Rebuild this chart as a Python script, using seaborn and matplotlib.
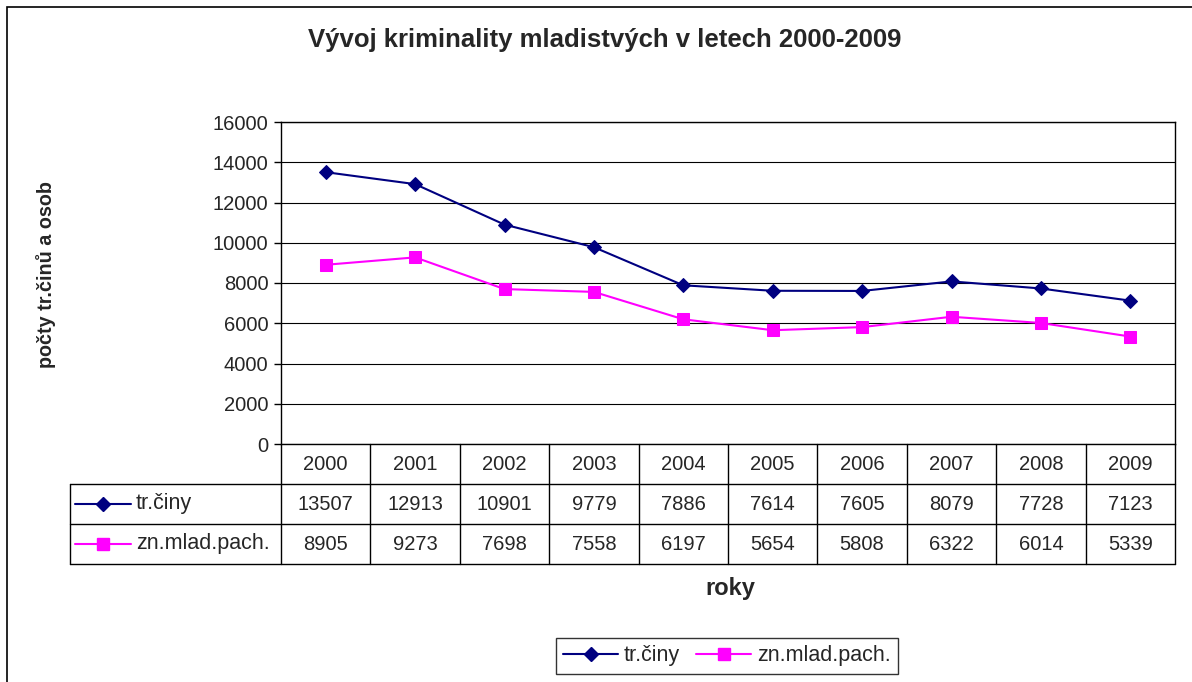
import numpy as np
import pandas as pd
import seaborn as sns
import matplotlib.pyplot as plt
from matplotlib.lines import Line2D
from matplotlib.patches import Rectangle

roky = ['2000', '2001', '2002', '2003', '2004', '2005', '2006', '2007', '2008', '2009']
tr_ciny = [13507, 12913, 10901, 9779, 7886, 7614, 7605, 8079, 7728, 7123]
pachatele = [8905, 9273, 7698, 7558, 6197, 5654, 5808, 6322, 6014, 5339]
nazvy = ['tr.činy', 'zn.mlad.pach.']
barvy = ['#000080', '#FF00FF']
znacky = ['D', 's']
velikosti = [7, 8.5]

sns.set_style('white')
plt.rcParams['font.family'] = ['Liberation Sans', 'DejaVu Sans']

W, H = 1192, 682
fig = plt.figure(figsize=(W / 100, H / 100), dpi=100)

# outer chart frame
fig.patches.append(Rectangle((7 / W, -0.1), 1.2, 1 - 7 / H + 0.1, transform=fig.transFigure,
                             fill=False, edgecolor='black', linewidth=1.2))

x0, x1, y0, y1 = 281, 1175, 444, 122
ax = fig.add_axes([x0 / W, 1 - y0 / H, (x1 - x0) / W, (y0 - y1) / H])

xpos = np.arange(len(roky)) + 0.5
df = pd.DataFrame({'x': np.concatenate([xpos, xpos]),
                   'y': tr_ciny + pachatele,
                   'serie': [nazvy[0]] * len(roky) + [nazvy[1]] * len(roky)})

for nazev, barva, zn, ms in zip(nazvy, barvy, znacky, velikosti):
    sub = df[df['serie'] == nazev]
    sns.lineplot(data=sub, x='x', y='y', ax=ax, color=barva, marker=zn,
                 markersize=ms, markeredgecolor=barva, linewidth=1.5, legend=False)

ax.set_xlim(0, len(roky))
ax.set_ylim(0, 16000)
ax.set_yticks(range(0, 16001, 2000))
ax.set_xticks([])
ax.grid(axis='y', color='black', linewidth=0.8)
ax.set_axisbelow(True)
for s in ax.spines.values():
    s.set_color('black')
    s.set_linewidth(1)
ax.tick_params(axis='y', which='major', direction='out', length=5, width=1,
               color='black', labelsize=14.5, left=True, pad=4)
ax.set_xlabel('')
ax.set_ylabel('')

# data table under the plot
ph = y0 - y1
def ay(py):
    return (y0 - py) / ph
def axx(px):
    return (px - x0) / (x1 - x0)

lk = dict(color='black', linewidth=1, transform=ax.transAxes, clip_on=False)
for py in [484, 524, 564]:
    ax.add_line(Line2D([axx(70), 1], [ay(py), ay(py)], **lk))
for i in range(len(roky) + 1):
    ax.add_line(Line2D([i / len(roky)] * 2, [0, ay(564)], **lk))
ax.add_line(Line2D([axx(70)] * 2, [ay(484), ay(564)], **lk))

for i, r in enumerate(roky):
    ax.text((i + 0.5) / len(roky), ay(464), r, transform=ax.transAxes,
            ha='center', va='center', fontsize=14.5)
for row, (vals, py) in enumerate([(tr_ciny, 504), (pachatele, 544)]):
    for i, v in enumerate(vals):
        ax.text((i + 0.5) / len(roky), ay(py), str(v), transform=ax.transAxes,
                ha='center', va='center', fontsize=14.5)
    ax.add_line(Line2D([axx(75), axx(131)], [ay(py)] * 2, color=barvy[row], linewidth=1.5,
                       transform=ax.transAxes, clip_on=False))
    ax.add_line(Line2D([axx(103)], [ay(py)], color=barvy[row], marker=znacky[row],
                       markersize=velikosti[row], transform=ax.transAxes, clip_on=False))
    ax.text(axx(136), ay(py), nazvy[row], transform=ax.transAxes,
            ha='left', va='center', fontsize=15.5)

fig.text(605 / W, 1 - 40 / H, 'Vývoj kriminality mladistvých v letech 2000-2009',
         ha='center', va='center', fontsize=18.5, fontweight='bold')
fig.text(46 / W, 1 - 275 / H, 'počty tr.činů a osob', rotation=90,
         ha='center', va='center', fontsize=14.2, fontweight='bold')
fig.text(730 / W, 1 - 588 / H, 'roky', ha='center', va='center',
         fontsize=17, fontweight='bold')

handles = [Line2D([], [], color=b, marker=z, markersize=ms, linewidth=1.5)
           for b, z, ms in zip(barvy, znacky, velikosti)]
leg = fig.legend(handles, nazvy, loc='center', bbox_to_anchor=(727 / W, 1 - 656 / H),
                 ncol=2, frameon=True, fancybox=False, fontsize=15.5, handlelength=2.55,
                 handletextpad=0.28, columnspacing=0.75, borderpad=0.35)
leg.get_frame().set_edgecolor('black')
leg.get_frame().set_linewidth(1)

fig.savefig('out.png', dpi=100)
